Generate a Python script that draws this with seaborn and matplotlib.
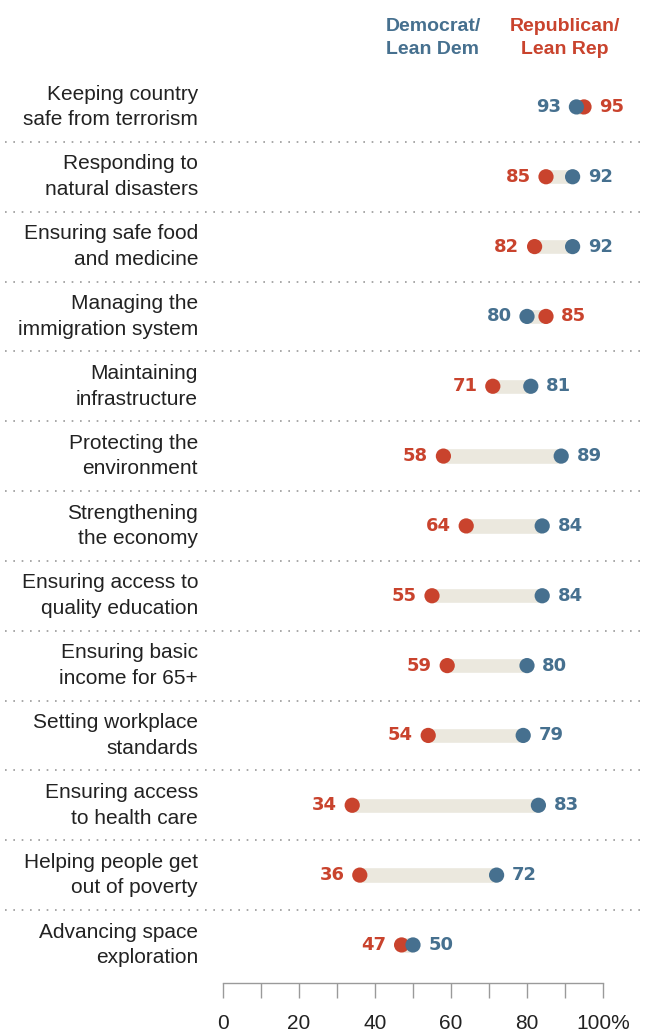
import matplotlib; matplotlib.use('Agg')
import matplotlib.pyplot as plt
import matplotlib.transforms as mtransforms
import seaborn as sns
import pandas as pd
import numpy as np

# Data
tasks = [
    "Keeping country\nsafe from terrorism",
    "Responding to\nnatural disasters",
    "Ensuring safe food\nand medicine",
    "Managing the\nimmigration system",
    "Maintaining\ninfrastructure",
    "Protecting the\nenvironment",
    "Strengthening\nthe economy",
    "Ensuring access to\nquality education",
    "Ensuring basic\nincome for 65+",
    "Setting workplace\nstandards",
    "Ensuring access\nto health care",
    "Helping people get\nout of poverty",
    "Advancing space\nexploration",
]
dem = [93, 92, 92, 80, 81, 89, 84, 84, 80, 79, 83, 72, 50]
rep = [95, 85, 82, 85, 71, 58, 64, 55, 59, 54, 34, 36, 47]
x_ticks = list(range(0, 101, 10))
x_ticklabels = ['0', '', '20', '', '40', '', '60', '', '80', '', '100%']

BLUE = '#46708f'
RED = '#c9432d'
BAR = '#ebe8de'
GRID = '#9a9a9a'

sns.set_style('white')
LIB = ['Liberation Sans', 'DejaVu Sans']

df = pd.DataFrame({'task': tasks, 'dem': dem, 'rep': rep})
df['pos'] = np.arange(len(df))

fig = plt.figure(figsize=(6.45, 10.32), dpi=100)
ax = fig.add_axes([223 / 645, 1 - 983 / 1032, 380 / 645, (983 - 72) / 1032])

# connecting bars
lo = df[['dem', 'rep']].min(axis=1)
hi = df[['dem', 'rep']].max(axis=1)
ax.barh(df['pos'], hi - lo, left=lo, height=0.22, color=BAR, zorder=1)

# dots: red first so blue sits on top
long = df.melt(id_vars=['pos'], value_vars=['rep', 'dem'], var_name='party', value_name='pct')
sns.scatterplot(data=long, x='pct', y='pos', hue='party', palette={'rep': RED, 'dem': BLUE},
                s=120, linewidth=0, legend=False, ax=ax, zorder=3, clip_on=False)

# value labels
for _, row in df.iterrows():
    for col, color in (('dem', BLUE), ('rep', RED)):
        other = 'rep' if col == 'dem' else 'dem'
        left = row[col] < row[other]
        ax.annotate(str(row[col]), (row[col], row['pos']),
                    xytext=(-11 if left else 11, 0), textcoords='offset points',
                    ha='right' if left else 'left', va='center',
                    color=color, fontsize=13, fontweight='bold',
                    family='DejaVu Sans', annotation_clip=False)

# row labels and separators
trans = mtransforms.blended_transform_factory(fig.transFigure, ax.transData)
for _, row in df.iterrows():
    ax.text(198 / 645, row['pos'], row['task'], transform=trans, ha='right', va='center',
            fontsize=15, family=LIB, color='#222222', linespacing=1.45)
for p in df['pos'][:-1]:
    ax.plot([5 / 645, 640 / 645], [p + 0.5, p + 0.5], transform=trans, color=GRID,
            lw=1.2, linestyle=(0, (1, 4)), clip_on=False)

# header
fig.text(433 / 645, 1 - 38 / 1032, 'Democrat/\nLean Dem', ha='center', va='center',
         color=BLUE, fontsize=14, fontweight='bold', family=LIB, linespacing=1.45)
fig.text(565 / 645, 1 - 38 / 1032, 'Republican/\nLean Rep', ha='center', va='center',
         color=RED, fontsize=14, fontweight='bold', family=LIB, linespacing=1.45)

ax.set_xlim(0, 100)
ax.set_ylim(12.545, -0.5)
ax.set_yticks([])
ax.set_xticks(x_ticks)
ax.set_xticklabels(x_ticklabels, fontsize=15, family=LIB, color='#222222')
ax.tick_params(axis='x', length=11, width=1, color=GRID, direction='out', pad=11, bottom=True)
for s in ['top', 'left', 'right']:
    ax.spines[s].set_visible(False)
ax.spines['bottom'].set_color(GRID)
ax.spines['bottom'].set_linewidth(1)
ax.set_xlabel('')
ax.set_ylabel('')

plt.savefig('out.png', dpi=100)
plt.close()
